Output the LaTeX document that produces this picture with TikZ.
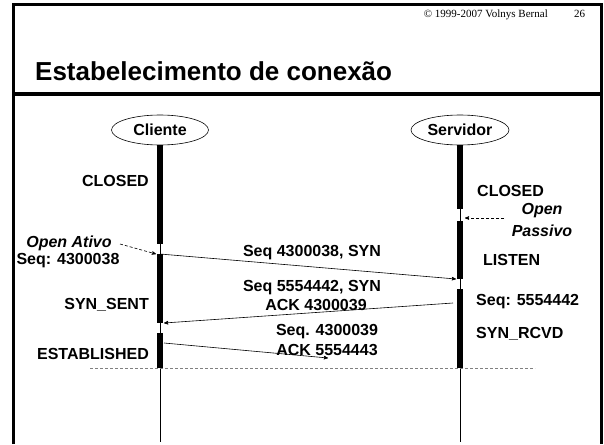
\documentclass[tikz,border=0pt]{standalone}
\usepackage{fontspec}
\setmainfont{Liberation Sans}
\newfontfamily\timesfont{Liberation Serif}
\usepackage{tikz}
\usetikzlibrary{arrows,shapes.geometric}

\tikzset{
  estado/.style={font=\bfseries\fontsize{16}{19}\selectfont,inner sep=0pt},
  nota/.style={font=\bfseries\itshape\fontsize{16}{19}\selectfont,inner sep=0pt},
  ponta/.style={ellipse,draw,line width=0.6pt,minimum width=97pt,minimum height=30pt,inner sep=0pt,
    font=\bfseries\fontsize{16}{19}\selectfont},
  vida/.style={line width=0.9pt},
  ativo/.style={line width=6pt},
  msg/.style={line width=0.6pt,->,>=stealth'},
  aviso/.style={line width=0.6pt,dashed,dash pattern=on 3pt off 2pt,->,>=stealth'},
}

\begin{document}
\begin{tikzpicture}[x=1pt,y=-1pt]
    \useasboundingbox (0,0) rectangle (604,444);
    % moldura e titulo
    \draw[line width=3pt] (13.5,444) -- (13.5,4.5) -- (601.5,4.5) -- (601.5,444);
    \draw[line width=3.5pt] (13.5,94) -- (601.5,94);
    \node[font=\timesfont\fontsize{11}{13}\selectfont,inner sep=0pt,anchor=base east] (copia) at (548,18) {\textcopyright{} 1999-2007 Volnys Bernal};
    \node[font=\timesfont\fontsize{11}{13}\selectfont,inner sep=0pt,anchor=base west] (pag) at (574,18) {26};
    \node[font=\bfseries\fontsize{26}{31}\selectfont,inner sep=0pt,anchor=base west] (titulo) at (35,80) {Estabelecimento de conex\~ao};

    % entidades e linhas de vida
    \node[ponta] (cli) at (160,130) {Cliente};
    \node[ponta,minimum width=98pt] (srv) at (460,130) {Servidor};
    \coordinate (cfim) at (160,442);
    \coordinate (sfim) at (460,442);
    \draw[vida] (cli.south) -- (cfim);
    \draw[vida] (srv.south) -- (sfim);
    \draw[ativo] (160,145) -- (160,244);
    \draw[ativo] (160,254) -- (160,323);
    \draw[ativo] (160,333) -- (160,368);
    \draw[ativo] (460,145) -- (460,209);
    \draw[ativo] (460,221) -- (460,279);
    \draw[ativo] (460,289) -- (460,368);
    \draw[line width=0.6pt,gray,dash pattern=on 3pt off 2pt] (90,368) -- (535,368);

    % estados
    \node[estado,anchor=base east] (cclosed) at (149,186) {CLOSED};
    \node[estado,anchor=base east] (csent) at (149,309) {SYN\_SENT};
    \node[estado,anchor=base east] (cest) at (149,359) {ESTABLISHED};
    \node[estado,anchor=base west] (sclosed) at (477,196) {CLOSED};
    \node[estado,anchor=base west] (slisten) at (483,265) {LISTEN};
    \node[estado,anchor=base west] (sseq) at (476,305) {Seq: 5554442};
    \node[estado,anchor=base west] (srcvd) at (476,338) {SYN\_RCVD};

    % open ativo / passivo
    \node[nota,anchor=base] (ativo) at (69,247) {Open Ativo};
    \node[estado,anchor=base] (cseq) at (68,264) {Seq: 4300038};
    \node[nota,anchor=base] (open) at (542,214) {Open};
    \node[nota,anchor=base] (passivo) at (542,236) {Passivo};
    \coordinate (a0) at (120,244);
    \coordinate (a1) at (156,254);
    \coordinate (p0) at (504,218);
    \coordinate (p1) at (465,218);
    \draw[aviso] (a0) -- (a1);
    \draw[aviso] (p0) -- (p1);

    % segmentos
    \coordinate (m1a) at (160,254);
    \coordinate (m1b) at (456,279);
    \coordinate (m2a) at (453,303);
    \coordinate (m2b) at (164,323);
    \coordinate (m3a) at (164,343);
    \coordinate (m3b) at (328,358);
    \draw[msg] (m1a) -- (m1b);
    \draw[msg] (m2a) -- (m2b);
    \draw[msg] (m3a) -- (m3b);
    \node[estado,anchor=base] (syn) at (312,256) {Seq 4300038, SYN};
    \node[estado,anchor=base] (synack1) at (312,291) {Seq 5554442, SYN};
    \node[estado,anchor=base] (synack2) at (316,310) {ACK 4300039};
    \node[estado,anchor=base] (ack1) at (327,335) {Seq. 4300039};
    \node[estado,anchor=base] (ack2) at (327,355) {ACK 5554443};
\end{tikzpicture}
\end{document}
